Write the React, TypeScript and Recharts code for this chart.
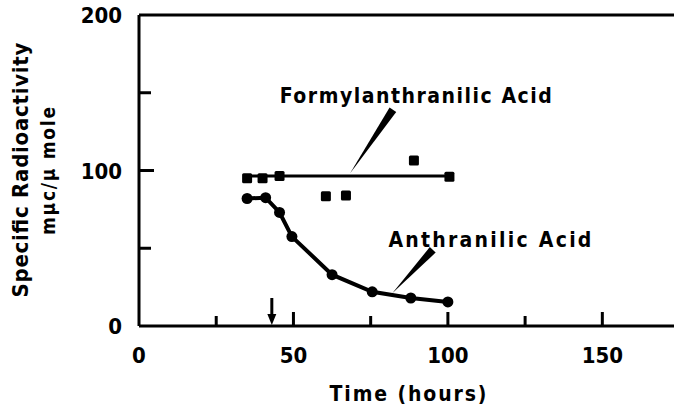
import React from 'react';
import { ComposedChart, Line, XAxis, YAxis, ReferenceLine, ReferenceDot } from 'recharts';

// hours, specific radioactivity (mμc/μmole)
const anthranilicHours = [35, 41, 45.5, 49.5, 62.5, 75.5, 88, 100];
const anthranilicValues = [82, 82.5, 73, 57.5, 33, 22, 18, 15.5];

const formylHours = [35, 40, 45.5, 60.5, 67, 89, 100.5];
const formylValues = [95, 95, 96.5, 83.5, 84, 106.5, 96];

// drawn mean line through the formylanthranilic points
const formylFitHours = [35, 100];
const formylFitValues = [96.5, 96.5];

const xTicks = [0, 25, 50, 75, 100, 125, 150, 175];
const xLabels = [0, 50, 100, 150];
const yTicks = [0, 50, 100, 150, 200];
const yLabels = [0, 100, 200];

const arrowHour = 43;

const toRows = (xs: number[], ys: number[]) => xs.map((x, i) => ({ x, y: ys[i] }));

const anthranilic = toRows(anthranilicHours, anthranilicValues);
const formyl = toRows(formylHours, formylValues);
const formylFit = toRows(formylFitHours, formylFitValues);

const FONT = '"DejaVu Sans Condensed", "DejaVu Sans", sans-serif';

const XTick = (props: any) => {
  const { x, y, payload } = props;
  const v = payload.value;
  const len = v === 0 ? 0 : v % 50 === 0 ? 14 : 10;
  return (
    <g>
      {len > 0 && <line x1={x} x2={x} y1={y} y2={y - len} stroke="#000" strokeWidth={3} />}
      {xLabels.includes(v) && (
        <text x={x} y={y + 37} textAnchor="middle" fontFamily={FONT} fontWeight="bold" fontSize={22} fill="#000">
          {v}
        </text>
      )}
    </g>
  );
};

const YTick = (props: any) => {
  const { x, y, payload } = props;
  const v = payload.value;
  const len = v === 0 || v === 200 ? 0 : v === 100 ? 15 : 12;
  return (
    <g>
      {len > 0 && <line x1={x} x2={x + len} y1={y} y2={y} stroke="#000" strokeWidth={3} />}
      {yLabels.includes(v) && (
        <text x={x - 17} y={y + 8} textAnchor="end" fontFamily={FONT} fontWeight="bold" fontSize={22} fill="#000">
          {v}
        </text>
      )}
    </g>
  );
};

const SquareDot = (props: any) => {
  const { cx, cy, index } = props;
  return <rect key={`sq-${index}`} x={cx - 5} y={cy - 5} width={10} height={10} rx={1.5} fill="#000" />;
};

// tapering pointer from label (thick end) to curve (tip)
const Wedge = (props: any) => {
  const { x1, y1, x2, y2 } = props;
  const dx = x2 - x1;
  const dy = y2 - y1;
  const len = Math.sqrt(dx * dx + dy * dy) || 1;
  const nx = (-dy / len) * 4;
  const ny = (dx / len) * 4;
  const pts = `${x1 + nx},${y1 + ny} ${x1 - nx},${y1 - ny} ${x2},${y2}`;
  return <polygon points={pts} fill="#000" />;
};

const labelShape = (text: string, width: number) => (p: any) => (
  <text
    x={p.cx}
    y={p.cy + 7}
    textAnchor="middle"
    fontFamily={FONT}
    fontWeight="bold"
    fontSize={21}
    textLength={width}
    lengthAdjust="spacing"
    fill="#000"
  >
    {text}
  </text>
);

const ArrowHead = (p: any) => (
  <polygon points={`${p.cx - 4.5},${p.cy - 12} ${p.cx + 4.5},${p.cy - 12} ${p.cx},${p.cy - 1}`} fill="#000" />
);

export default function App() {
  return (
    <div style={{ position: 'relative', width: 674, height: 407, overflow: 'hidden', background: '#fff' }}>
      <style>{'body{margin:0}'}</style>
      <ComposedChart width={700} height={407} margin={{ top: 15, right: 5, left: 0, bottom: 0 }}>
        <XAxis
          dataKey="x"
          type="number"
          domain={[0, 180]}
          ticks={xTicks}
          tick={XTick}
          tickLine={false}
          tickSize={0}
          tickMargin={0}
          axisLine={{ stroke: '#000', strokeWidth: 3 }}
          height={81}
          allowDataOverflow
        />
        <YAxis
          type="number"
          domain={[0, 200]}
          ticks={yTicks}
          tick={YTick}
          tickLine={false}
          tickSize={0}
          tickMargin={0}
          axisLine={{ stroke: '#000', strokeWidth: 3 }}
          width={139}
        />
        <ReferenceLine y={200} stroke="#000" strokeWidth={3} />

        <Line
          data={formylFit}
          dataKey="y"
          stroke="#000"
          strokeWidth={3}
          dot={false}
          activeDot={false}
          isAnimationActive={false}
        />
        <Line
          data={formyl}
          dataKey="y"
          stroke="none"
          dot={SquareDot}
          activeDot={false}
          isAnimationActive={false}
        />
        <Line
          data={anthranilic}
          dataKey="y"
          type="linear"
          stroke="#000"
          strokeWidth={4}
          dot={{ r: 5.5, fill: '#000', stroke: '#000', strokeWidth: 0 }}
          activeDot={false}
          isAnimationActive={false}
        />

        <ReferenceLine segment={[{ x: 82.2, y: 139 }, { x: 68.3, y: 98 }]} shape={Wedge} />
        <ReferenceLine segment={[{ x: 95.1, y: 49 }, { x: 82, y: 21 }]} shape={Wedge} />
        <ReferenceDot x={89.6} y={148} r={0} shape={labelShape('Formylanthranilic Acid', 272)} />
        <ReferenceDot x={113.6} y={55} r={0} shape={labelShape('Anthranilic Acid', 203)} />

        <ReferenceLine segment={[{ x: arrowHour, y: 18 }, { x: arrowHour, y: 5 }]} stroke="#000" strokeWidth={3} />
        <ReferenceDot x={arrowHour} y={0} r={0} shape={ArrowHead} />
      </ComposedChart>

      <svg width={674} height={407} style={{ position: 'absolute', left: 0, top: 0, pointerEvents: 'none' }}>
        <g fontFamily={FONT} fontWeight="bold" fill="#000">
          <text x={0} y={0} transform="translate(20,170) rotate(-90)" textAnchor="middle" dominantBaseline="central" fontSize={22} textLength={255} lengthAdjust="spacing">
            Specific Radioactivity
          </text>
          <text x={0} y={0} transform="translate(48,171) rotate(-90)" textAnchor="middle" dominantBaseline="central" fontSize={19} textLength={128} lengthAdjust="spacing">
            mμc/μ mole
          </text>
          <text x={408} y={401} textAnchor="middle" fontSize={21} textLength={157} lengthAdjust="spacing">
            Time (hours)
          </text>
        </g>
      </svg>
    </div>
  );
}
